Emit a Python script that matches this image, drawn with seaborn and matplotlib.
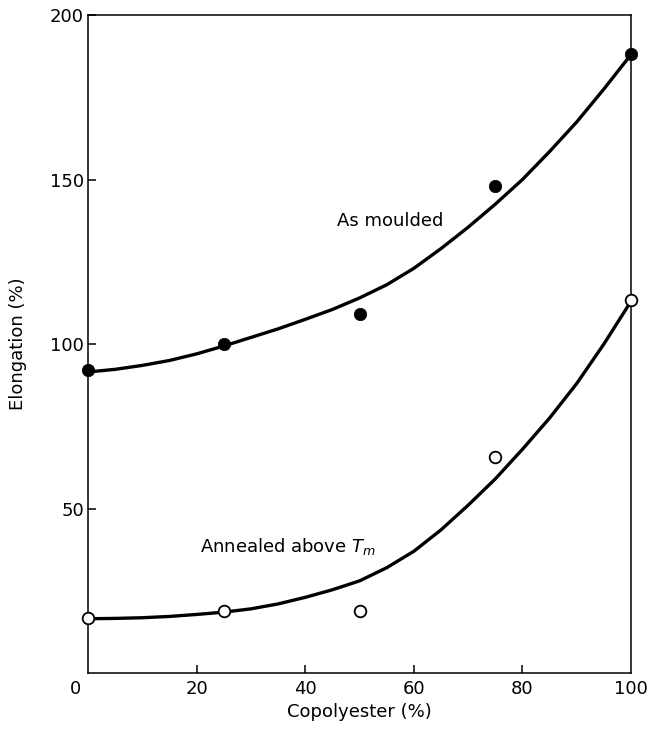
import matplotlib
matplotlib.use("Agg")
import matplotlib.pyplot as plt
import matplotlib.transforms as mtransforms
import seaborn as sns

# measured points
copolyester = [0, 25, 50, 75, 100]
as_moulded = [92, 100, 109, 148, 188]
annealed = [16.7, 19, 19, 65.7, 113.4]

# smooth trend curves
curve_x = [0, 5, 10, 15, 20, 25, 30, 35, 40, 45, 50,
           55, 60, 65, 70, 75, 80, 85, 90, 95, 100]
curve_moulded = [91.5, 92.3, 93.5, 95, 97, 99.4, 102, 104.6, 107.5, 110.5, 114,
                 118, 123, 129, 135.5, 142.5, 150, 158.5, 167.5, 177.5, 188]
curve_annealed = [16.5, 16.6, 16.8, 17.2, 17.8, 18.5, 19.5, 21, 23, 25.3, 28,
                  32, 37, 43.5, 51, 59, 68, 77.5, 88, 100, 113]

x_ticks = [0, 20, 40, 60, 80, 100]
y_ticks = [50, 100, 150, 200]

sns.set_style("ticks")
plt.rcParams['font.family'] = ['DejaVu Sans']
plt.rcParams['text.color'] = 'black'
plt.rcParams['axes.labelcolor'] = 'black'
plt.rcParams['xtick.direction'] = 'in'
plt.rcParams['ytick.direction'] = 'in'

fig = plt.figure(figsize=(6.54, 7.29), dpi=100)
ax = fig.add_axes([0.1346, 0.0768, 0.8303, 0.9026])

sns.lineplot(x=curve_x, y=curve_moulded, color='black', lw=2.4, ax=ax)
sns.lineplot(x=curve_x, y=curve_annealed, color='black', lw=2.4, ax=ax)

sns.scatterplot(x=copolyester, y=as_moulded, color='black', s=80,
                edgecolor='black', linewidth=0.5, ax=ax, clip_on=False, zorder=5)
sns.scatterplot(x=copolyester, y=annealed, facecolor='white', s=70,
                edgecolor='black', linewidth=1.3, ax=ax, clip_on=False, zorder=5)

ax.set_xlim(0, 100)
ax.set_ylim(0, 200)
ax.set_xticks(x_ticks)
ax.set_xticklabels([str(v) for v in x_ticks])
ax.set_yticks(y_ticks)
ax.set_yticklabels([str(v) for v in y_ticks])

for s in ax.spines.values():
    s.set_visible(True)
    s.set_linewidth(1.1)
    s.set_color('black')

ax.tick_params(axis='both', which='both', direction='in', length=6, width=1.1,
               labelsize=13, colors='black', bottom=True, left=True,
               top=False, right=False)
ax.tick_params(axis='x', pad=5)
ax.tick_params(axis='y', pad=3)

# ticks at the axis ends coincide with the frame; hide them
for t, loc in zip(ax.xaxis.get_major_ticks(), x_ticks):
    if loc in (0, 100):
        t.tick1line.set_visible(False)
        t.tick2line.set_visible(False)

# shift the "0" x tick label slightly left as in the reference
lbl0 = ax.get_xticklabels()[0]
lbl0.set_transform(lbl0.get_transform() +
                   mtransforms.ScaledTranslation(-13/100, 0, fig.dpi_scale_trans))

ax.set_xlabel("Copolyester (%)", fontsize=13, color='black')
ax.set_ylabel("Elongation (%)", fontsize=13, color='black')
ax.xaxis.set_label_coords(0.5, -0.045)
ax.yaxis.set_label_coords(-0.112, 0.5)

ax.text(45.9, 136, "As moulded", fontsize=13, ha='left', va='baseline', color='black')
ax.text(20.6, 36.8, "Annealed above $T_m$", fontsize=13, ha='left', va='baseline',
        color='black')

fig.savefig("out.png", dpi=100)
